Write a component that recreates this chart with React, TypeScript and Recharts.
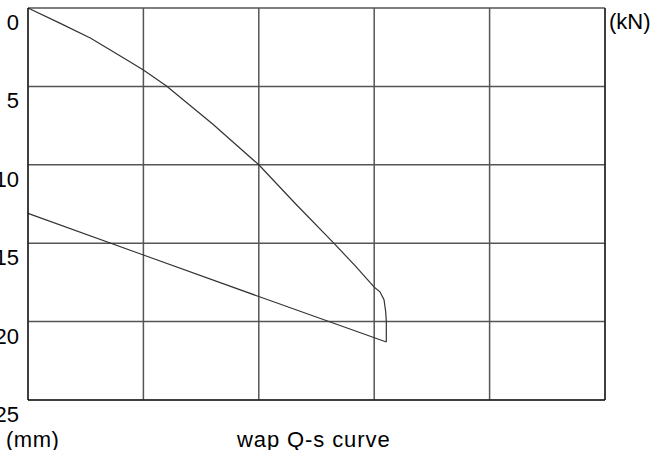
import { LineChart, Line, XAxis, YAxis, CartesianGrid, ReferenceLine } from 'recharts'

// loading branch (Q in kN, s in mm)
const loadQ = [0, 280, 540, 800, 1000, 1200, 1600, 2000, 2320, 2650, 2830, 3000, 3050, 3085, 3100, 3105, 3105]
const loadS = [0, 0.98, 1.91, 3.06, 3.95, 4.97, 7.4, 10.0, 12.5, 15.0, 16.4, 17.8, 18.1, 18.6, 19.4, 20.0, 21.3]

// unloading branch
const unloadQ = [3105, 2000, 1000, 0]
const unloadS = [21.3, 18.4, 15.75, 13.1]

const qTicks = [0, 1000, 2000, 3000, 4000, 5000]
const sTicks = [0, 5, 10, 15, 20, 25]

const FONT = '"Liberation Sans", Arial, sans-serif'

const loadData = loadQ.map((q, i) => ({ q, s: loadS[i] }))
const unloadData = unloadQ.map((q, i) => ({ q, s: unloadS[i] }))

function STick(props: any) {
  const { y, payload } = props
  return (
    <text x={19} y={y + 22} textAnchor="end" fontSize={22} fontFamily={FONT} fill="#000">
      {payload.value}
    </text>
  )
}

// x ticks are needed for the grid, but no labels are drawn
const NoTick = () => <g />

export default function App() {
  return (
    <div style={{ position: 'absolute', left: 0, top: 0, width: 651, height: 450, background: '#fff' }}>
      <LineChart width={651} height={450} margin={{ top: 8, right: 46, bottom: 50, left: 0 }}>
        <CartesianGrid stroke="#555" strokeWidth={1.5} />
        <XAxis
          type="number"
          dataKey="q"
          orientation="top"
          domain={[0, 5000]}
          ticks={qTicks}
          interval={0}
          height={0}
          tick={NoTick}
          tickLine={false}
          axisLine={{ stroke: '#000' }}
        />
        <YAxis
          type="number"
          dataKey="s"
          reversed
          domain={[0, 25]}
          ticks={sTicks}
          interval={0}
          width={28}
          tick={<STick />}
          tickLine={false}
          axisLine={{ stroke: '#000' }}
        />
        <ReferenceLine x={5000} stroke="#000" />
        <ReferenceLine y={25} stroke="#000" />
        <Line
          data={loadData}
          dataKey="s"
          type="linear"
          stroke="#333"
          strokeWidth={1.2}
          dot={false}
          isAnimationActive={false}
        />
        <Line
          data={unloadData}
          dataKey="s"
          type="linear"
          stroke="#333"
          strokeWidth={1.2}
          dot={false}
          isAnimationActive={false}
        />
      </LineChart>
      <svg width={651} height={450} style={{ position: 'absolute', left: 0, top: 0, pointerEvents: 'none' }}>
        <text x={609} y={29} fontSize={22} fontFamily={FONT} fill="#000">(kN)</text>
        <text x={6} y={447} fontSize={22} fontFamily={FONT} fill="#000" letterSpacing={0.5}>(mm)</text>
        <text x={237} y={447} fontSize={22} fontFamily={FONT} fill="#000" letterSpacing={0.9}>wap Q-s curve</text>
      </svg>
    </div>
  )
}
